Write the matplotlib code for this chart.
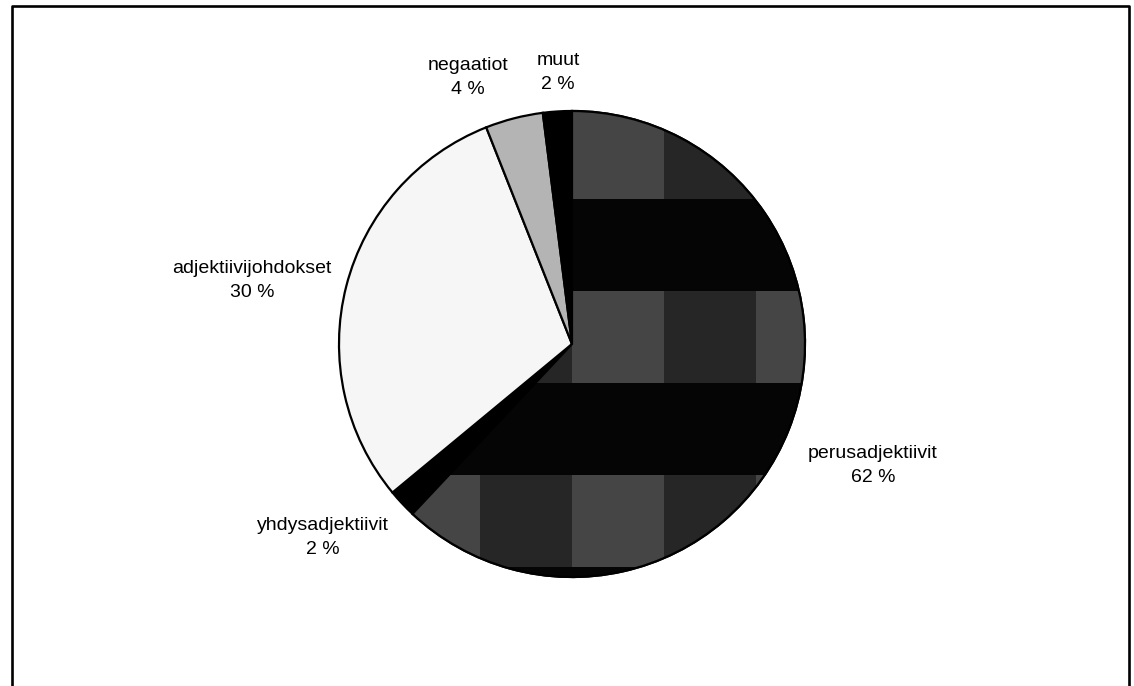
import numpy as np
import matplotlib
matplotlib.use("Agg")
import matplotlib.pyplot as plt
from matplotlib.lines import Line2D
from matplotlib.patches import Wedge

# ---- data ----
categories = ["perusadjektiivit", "yhdysadjektiivit", "adjektiivijohdokset", "negaatiot", "muut"]
values = [62, 2, 30, 4, 2]
pct_labels = ["62 %", "2 %", "30 %", "4 %", "2 %"]

# ---- style / layout ----
colors = ["#2e2e2e", "#000000", "#f6f6f6", "#b4b4b4", "#000000"]
label_pos = [(873, 445), (323, 517), (252, 260), (468, 57), (558, 52)]  # pixel (x, y from top)

W, H = 1134, 686
fig = plt.figure(figsize=(W / 100, H / 100), dpi=100)
fig.patch.set_facecolor("white")
ax = fig.add_axes([0, 0, 1, 1])

cx, cy, r = 572, H - 344, 233
wedges, _ = ax.pie(values, startangle=90, counterclock=False, colors=colors,
                   center=(cx, cy), radius=r, frame=True,
                   wedgeprops=dict(edgecolor="black", linewidth=1.6))
ax.set_xlim(0, W)
ax.set_ylim(0, H)
ax.set_aspect("equal")
ax.axis("off")

# plaid texture for the big slice
tile = 92.0
nx, ny = 10, 6
x0 = 388 - 2 * tile
ytop = 107
tex = np.zeros((ny, nx))
for j in range(ny):
    for i in range(nx):
        if j % 2 == 1:
            tex[j, i] = 0.02
        else:
            tex[j, i] = 0.27 if (i % 2 == 0) else 0.15
img = ax.imshow(tex, cmap="gray", vmin=0, vmax=1, interpolation="nearest", origin="upper",
                extent=(x0, x0 + nx * tile, H - (ytop + ny * tile), H - ytop),
                zorder=wedges[0].get_zorder() + 0.1)
img.set_clip_path(wedges[0])
ax.add_patch(Wedge((cx, cy), r, wedges[0].theta1, wedges[0].theta2,
                   facecolor="none", edgecolor="black", linewidth=1.6, zorder=5))
ax.set_xlim(0, W)
ax.set_ylim(0, H)
ax.axis("off")

for name, pct, (lx, ly) in zip(categories, pct_labels, label_pos):
    ax.text(lx, H - ly, f"{name}\n{pct}", ha="center", va="top", fontsize=14,
            family="Liberation Sans", linespacing=1.55, color="black")

# outer frame
lw = 1.9
fig.add_artist(Line2D([12 / W, 12 / W, 1129 / W, 1129 / W],
                      [0, 1 - 6 / H, 1 - 6 / H, 0], transform=fig.transFigure,
                      color="black", linewidth=lw))

fig.savefig("out.png", dpi=100, facecolor="white")
